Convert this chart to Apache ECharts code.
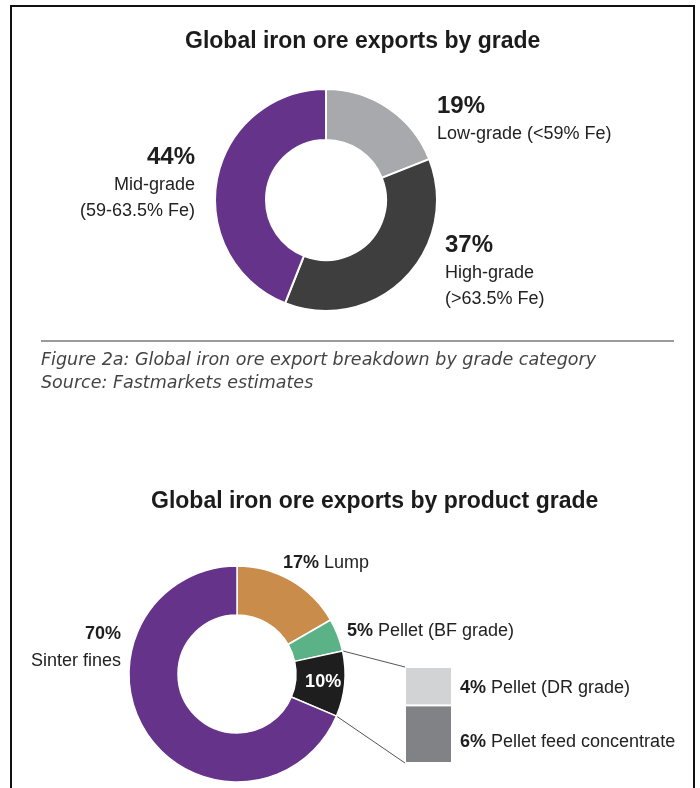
<!DOCTYPE html>
<html>
<head>
<meta charset="utf-8">
<script src="https://cdn.jsdelivr.net/npm/echarts@6/dist/echarts.min.js"></script>
<style>
  html, body { margin: 0; padding: 0; background: #fff; }
  #main { width: 700px; height: 788px; }
</style>
</head>
<body>
<div id="main"></div>
<script>
// top donut: exports by grade
var gradeNames = ['Low-grade (<59% Fe)', 'High-grade (>63.5% Fe)', 'Mid-grade (59-63.5% Fe)'];
var gradeLabels = ['Low-grade (<59% Fe)', 'High-grade\n(>63.5% Fe)', 'Mid-grade\n(59-63.5% Fe)'];
var gradeValues = [19, 37, 44];

// bottom donut: exports by product grade
var productNames = ['Lump', 'Pellet (BF grade)', 'Pellet (DR grade) and pellet feed', 'Sinter fines'];
var productValues = [17, 5, 10, 70];

// breakdown of the 10% slice (bottom to top)
var pelletNames = ['Pellet feed concentrate', 'Pellet (DR grade)'];
var pelletValues = [6, 4];

var FONT = '"Liberation Sans", Arial, Helvetica, sans-serif';
var purple = '#66338a';

// positions of the outside labels
var gradeLabelPos = [
  { x: 437, y: 120, align: 'left' },
  { x: 445, y: 272, align: 'left' },
  { x: 195, y: 184, align: 'right' }
];
var productLabelPos = [
  { x: 283, y: 563, align: 'left' },
  { x: 347, y: 631, align: 'left' },
  null,
  { x: 121, y: 648, align: 'right' }
];

var pie2 = { cx: 237, cy: 674, r0: 59, r1: 108 };
var box = { left: 405, top: 667, width: 47, height: 96 };

function sum(arr) {
  return arr.reduce(function (a, b) { return a + b; }, 0);
}
function piePoint(frac) {
  var a = frac * 2 * Math.PI;
  return [pie2.cx + pie2.r1 * Math.sin(a), pie2.cy - pie2.r1 * Math.cos(a)];
}

// connector lines from the 10% slice to the breakdown box
var total = sum(productValues);
var startFrac = (productValues[0] + productValues[1]) / total;
var endFrac = (productValues[0] + productValues[1] + productValues[2]) / total;
var pA = piePoint(startFrac);
var pB = piePoint(endFrac);

var gradeColors = ['#a8a9ac', '#3e3e3f', purple];
var productColors = ['#c98c4b', '#5bb286', '#1f1e1f', purple];

var myChart = echarts.init(document.getElementById('main'));

myChart.setOption({
  backgroundColor: '#fff',
  animation: false,
  title: [
    {
      text: 'Global iron ore exports by grade',
      left: 185, top: 30, padding: 0,
      textStyle: { fontFamily: FONT, fontSize: 23, fontWeight: 'bold', color: '#1b1b1b' }
    },
    {
      text: 'Global iron ore exports by product grade',
      left: 151, top: 490, padding: 0,
      textStyle: { fontFamily: FONT, fontSize: 23, fontWeight: 'bold', color: '#1b1b1b' }
    },
    {
      text: 'Figure 2a: Global iron ore export breakdown by grade category\nSource: Fastmarkets estimates',
      left: 41, top: 349, padding: 0,
      textStyle: { fontFamily: '"DejaVu Sans", "Open Sans", sans-serif', fontSize: 17.5, fontStyle: 'italic',
        fontWeight: 'normal', lineHeight: 23, color: '#444' }
    }
  ],
  graphic: [
    {
      type: 'rect', silent: true,
      shape: { x: 11, y: 6, width: 683, height: 800 },
      style: { fill: 'none', stroke: '#111', lineWidth: 2 }
    },
    {
      type: 'line', silent: true,
      shape: { x1: 41, y1: 341, x2: 674, y2: 341 },
      style: { stroke: '#7a7a7a', lineWidth: 1.5 }
    },
    {
      type: 'line', silent: true,
      shape: { x1: pA[0], y1: pA[1], x2: box.left, y2: box.top },
      style: { stroke: '#555', lineWidth: 1 }
    },
    {
      type: 'line', silent: true,
      shape: { x1: pB[0], y1: pB[1], x2: box.left, y2: box.top + box.height },
      style: { stroke: '#555', lineWidth: 1 }
    }
  ],
  grid: { left: box.left, top: box.top, width: box.width, height: box.height },
  xAxis: { type: 'category', data: ['Pellet'], show: false },
  yAxis: { type: 'value', min: 0, max: sum(pelletValues), show: false },
  series: [
    {
      type: 'pie',
      center: [326, 200],
      radius: [60, 111],
      startAngle: 90,
      clockwise: true,
      avoidLabelOverlap: false,
      itemStyle: { borderColor: '#fff', borderWidth: 2 },
      labelLine: { show: false },
      label: {
        position: 'outside',
        fontFamily: FONT,
        formatter: function (p) {
          return '{p|' + p.value + '%}\n{n|' + gradeLabels[p.dataIndex] + '}';
        },
        rich: {
          p: { fontFamily: FONT, fontSize: 24, fontWeight: 'bold', color: '#1e1e1e', lineHeight: 28 },
          n: { fontFamily: FONT, fontSize: 18, color: '#222', lineHeight: 26.5 }
        }
      },
      labelLayout: function (p) {
        var q = gradeLabelPos[p.dataIndex];
        return { x: q.x, y: q.y, align: q.align, verticalAlign: 'middle' };
      },
      data: gradeValues.map(function (v, i) {
        return { name: gradeNames[i], value: v, itemStyle: { color: gradeColors[i] } };
      })
    },
    {
      type: 'pie',
      center: [pie2.cx, pie2.cy],
      radius: [pie2.r0, pie2.r1],
      startAngle: 90,
      clockwise: true,
      avoidLabelOverlap: false,
      itemStyle: { borderColor: '#fff', borderWidth: 1.5 },
      labelLine: { show: false },
      label: {
        position: 'outside',
        fontFamily: FONT,
        formatter: function (p) {
          if (p.dataIndex === 3) {
            return '{p|' + p.value + '%}\n{n|' + p.name + '}';
          }
          return '{p|' + p.value + '%}{n| ' + p.name + '}';
        },
        rich: {
          p: { fontFamily: FONT, fontSize: 18, fontWeight: 'bold', color: '#1e1e1e', lineHeight: 27 },
          n: { fontFamily: FONT, fontSize: 18, color: '#222', lineHeight: 27 }
        }
      },
      labelLayout: function (p) {
        var q = productLabelPos[p.dataIndex];
        if (!q) return {};
        return { x: q.x, y: q.y, align: q.align, verticalAlign: 'middle' };
      },
      data: productValues.map(function (v, i) {
        var item = { name: productNames[i], value: v, itemStyle: { color: productColors[i] } };
        if (i === 2) {
          item.label = {
            position: 'inside',
            formatter: '{c}%',
            fontFamily: FONT, fontSize: 18, fontWeight: 'bold', color: '#fff'
          };
        }
        return item;
      })
    },
    {
      type: 'bar',
      name: pelletNames[0],
      stack: 'pellet',
      barWidth: '100%',
      itemStyle: { color: '#808285', borderColor: '#fff', borderWidth: 1 },
      label: {
        show: true, position: 'right', distance: 8, offset: [0, 8],
        formatter: '{p|{c}%}{n| {a}}',
        rich: {
          p: { fontFamily: FONT, fontSize: 18, fontWeight: 'bold', color: '#1e1e1e' },
          n: { fontFamily: FONT, fontSize: 18, color: '#222' }
        }
      },
      data: [pelletValues[0]]
    },
    {
      type: 'bar',
      name: pelletNames[1],
      stack: 'pellet',
      barWidth: '100%',
      itemStyle: { color: '#d2d3d5', borderColor: '#fff', borderWidth: 1 },
      label: {
        show: true, position: 'right', distance: 8, offset: [0, 2],
        formatter: '{p|{c}%}{n| {a}}',
        rich: {
          p: { fontFamily: FONT, fontSize: 18, fontWeight: 'bold', color: '#1e1e1e' },
          n: { fontFamily: FONT, fontSize: 18, color: '#222' }
        }
      },
      data: [pelletValues[1]]
    }
  ]
});
</script>
</body>
</html>
